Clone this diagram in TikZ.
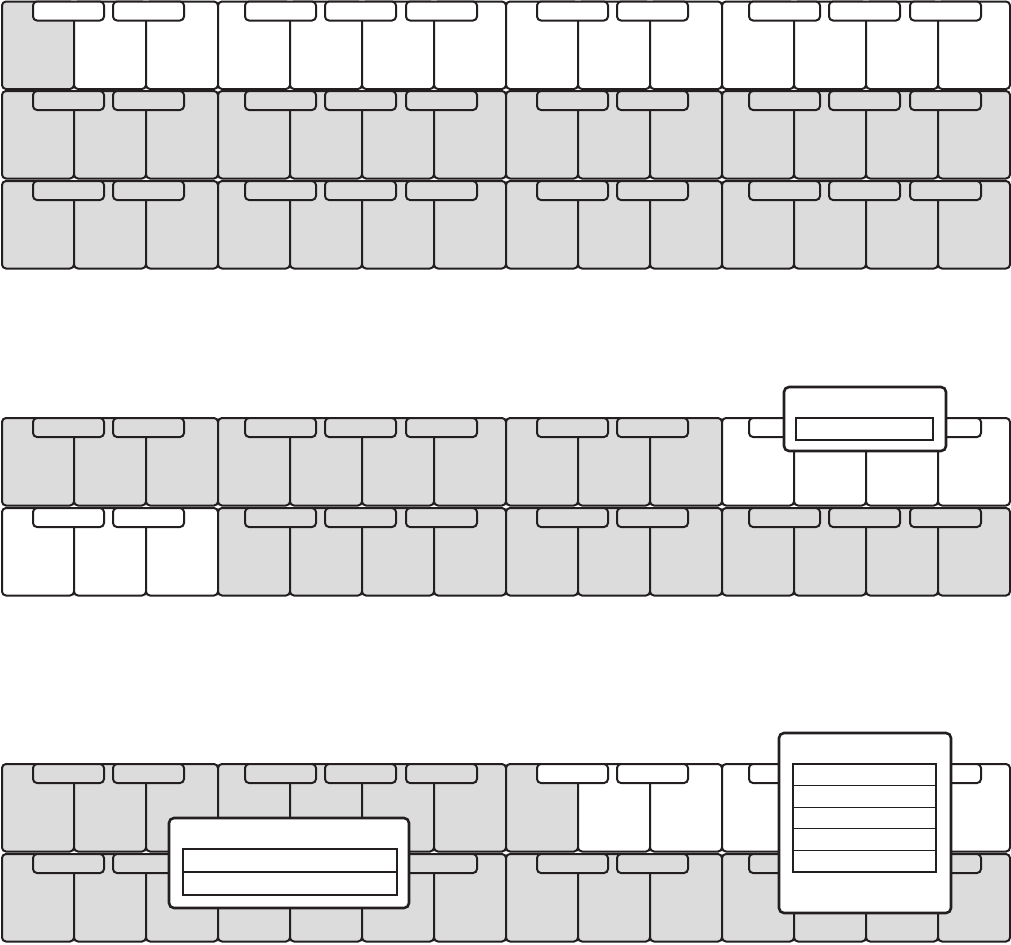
\documentclass[tikz,border=0pt]{standalone}
\definecolor{kgray}{RGB}{220,220,220}
\definecolor{kline}{RGB}{35,31,32}
\tikzset{
  wkey/.style={draw=kline, line width=1pt, rounded corners=2pt, minimum width=36pt,
    minimum height=43.75pt, anchor=north west, inner sep=0pt, outer sep=0pt},
  bkey/.style={draw=kline, line width=1pt, rounded corners=2pt, minimum width=35.5pt,
    minimum height=9.5pt, anchor=north west, inner sep=0pt, outer sep=0pt},
  popbox/.style={draw=kline, fill=white, line width=1.3pt, rounded corners=2.5pt,
    anchor=north west, inner sep=0pt, outer sep=0pt},
  cellbox/.style={draw=kline, fill=white, line width=0.6pt, anchor=north west,
    inner sep=0pt, outer sep=0pt}
}
% #1 name, #2 top, #3 key-0 colour, #4 group-1, #5 group-2, #6 key-7 colour, #7 group-3, #8 group-4
\newcommand\kbrow[8]{%
  \foreach \i/\c in {0/#3,1/#4,2/#4,3/#5,4/#5,5/#5,6/#5,7/#6,8/#7,9/#7,10/#8,11/#8,12/#8,13/#8}
    \node[wkey,fill=\c] (#1w\i) at ({2+72*\i},#2) {};
  \foreach \x/\c [count=\j] in {33/#4,113/#4,245/#5,325/#5,406/#5,537/#7,617/#7,749/#8,829/#8,910/#8}
    \node[bkey,fill=\c] (#1b\j) at (\x,#2) {};
}
\begin{document}
\begin{tikzpicture}[x=0.5pt,y=-0.5pt]
\useasboundingbox (0,0) rectangle (1011,944);
% section 1
\kbrow{ra}{1.5}{kgray}{white}{white}{white}{white}{white}
\kbrow{rb}{91}{kgray}{kgray}{kgray}{kgray}{kgray}{kgray}
\kbrow{rc}{181}{kgray}{kgray}{kgray}{kgray}{kgray}{kgray}
% section 2
\kbrow{rd}{418}{kgray}{kgray}{kgray}{kgray}{kgray}{white}
\kbrow{re}{508}{white}{white}{kgray}{kgray}{kgray}{kgray}
% section 3
\kbrow{rf}{764}{kgray}{kgray}{kgray}{kgray}{white}{white}
\kbrow{rg}{854}{kgray}{kgray}{kgray}{kgray}{kgray}{kgray}
% popup 1
\node[popbox, minimum width=81pt, minimum height=32pt] (popa) at (784,387) {};
\node[cellbox, minimum width=68.5pt, minimum height=11pt] (popa1) at (796,418) {};
% popup 2
\node[popbox, minimum width=120pt, minimum height=45pt] (popb) at (169,818) {};
\node[cellbox, minimum width=107pt, minimum height=11.5pt] (popb1) at (183,849) {};
\node[cellbox, minimum width=107pt, minimum height=11.5pt] (popb2) at (popb1.south west) {};
% popup 3
\node[popbox, minimum width=86pt, minimum height=90pt] (popc) at (779,733) {};
\node[cellbox, minimum width=71.5pt, minimum height=10.8pt] (popc1) at (793,764) {};
\node[cellbox, minimum width=71.5pt, minimum height=10.8pt] (popc2) at (popc1.south west) {};
\node[cellbox, minimum width=71.5pt, minimum height=10.8pt] (popc3) at (popc2.south west) {};
\node[cellbox, minimum width=71.5pt, minimum height=10.8pt] (popc4) at (popc3.south west) {};
\node[cellbox, minimum width=71.5pt, minimum height=10.8pt] (popc5) at (popc4.south west) {};
\end{tikzpicture}
\end{document}
